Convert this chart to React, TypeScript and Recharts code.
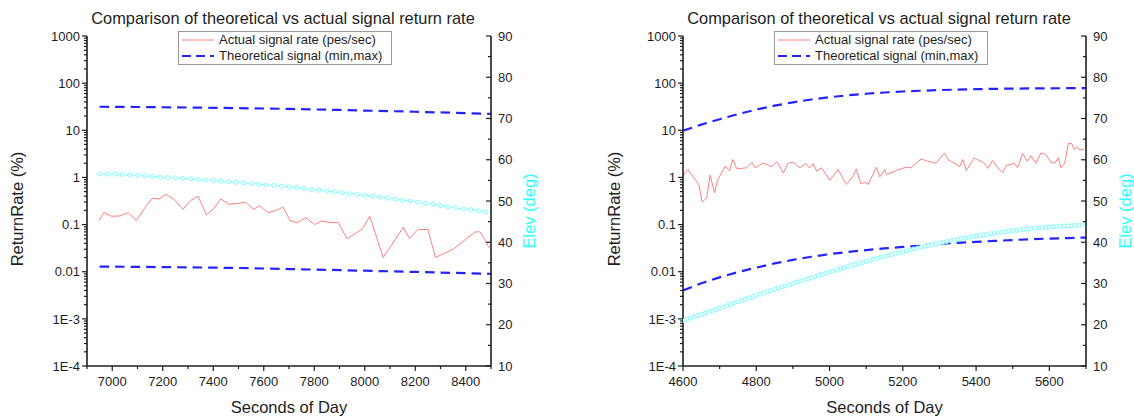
import { Legend, Line, LineChart, XAxis, YAxis } from 'recharts';

const FONT = '"Liberation Sans", Arial, Helvetica, sans-serif';
const INK = '#1e1e1e';
const RED = '#ff8080';
const BLUE = '#2424ff';
const CYAN = '#7dffff';
const CYAN_TEXT = '#2effff';

const TITLE = 'Comparison of theoretical vs actual signal return rate';
const legendLabels = ['Actual signal rate (pes/sec)', 'Theoretical signal (min,max)'];

// log axis (left) ticks
const rateMajor = [1e-4, 1e-3, 0.01, 0.1, 1, 10, 100, 1000];
const rateLabels = ['1E-4', '1E-3', '0.01', '0.1', '1', '10', '100', '1000'];
const rateMinor = rateMajor.slice(0, -1).flatMap((d) => [2, 3, 4, 5, 6, 7, 8, 9].map((m) => d * m));

// elevation axis (right) ticks
const elevMajor = [10, 20, 30, 40, 50, 60, 70, 80, 90];
const elevMinor = [15, 25, 35, 45, 55, 65, 75, 85];

const leftXMajor = [7000, 7200, 7400, 7600, 7800, 8000, 8200, 8400];
const leftXMinor = [6900, 7100, 7300, 7500, 7700, 7900, 8100, 8300, 8500];
const rightXMajor = [4600, 4800, 5000, 5200, 5400, 5600];
const rightXMinor = [4700, 4900, 5100, 5300, 5500, 5700];

// ---- left panel data ----
const leftActual: [number, number][] = [
  [6948, 0.12], [6967, 0.18], [6997, 0.15], [7030, 0.152], [7063, 0.178], [7096, 0.122],
  [7130, 0.23], [7158, 0.36], [7185, 0.35], [7214, 0.44], [7245, 0.34], [7280, 0.21],
  [7312, 0.33], [7340, 0.4], [7373, 0.16], [7402, 0.22], [7430, 0.35], [7463, 0.27],
  [7495, 0.28], [7527, 0.3], [7560, 0.21], [7583, 0.25], [7617, 0.18], [7650, 0.2],
  [7676, 0.235], [7705, 0.12], [7733, 0.11], [7765, 0.14], [7802, 0.1], [7830, 0.12],
  [7860, 0.11], [7895, 0.11], [7930, 0.05], [7990, 0.08], [8020, 0.15], [8073, 0.02],
  [8153, 0.088], [8177, 0.05], [8210, 0.079], [8250, 0.079], [8280, 0.02], [8350, 0.03],
  [8437, 0.07], [8457, 0.07], [8494, 0.032],
];

const leftTheoMax: [number, number][] = [
  [6950, 31.6], [7000, 31.5], [7100, 31.2], [7200, 30.8], [7300, 30.4], [7400, 30.0],
  [7500, 29.5], [7600, 29.0], [7700, 28.4], [7800, 27.7], [7900, 27.0], [8000, 26.2],
  [8100, 25.5], [8200, 24.7], [8300, 23.9], [8400, 23.1], [8500, 22.3],
];

const leftTheoMin: [number, number][] = [
  [6950, 0.0128], [7000, 0.0128], [7100, 0.0127], [7200, 0.0125], [7300, 0.0124],
  [7400, 0.0122], [7500, 0.012], [7600, 0.0117], [7700, 0.0114], [7800, 0.0111],
  [7900, 0.0108], [8000, 0.0105], [8100, 0.0102], [8200, 0.0099], [8300, 0.0096],
  [8400, 0.0093], [8500, 0.009],
];

const leftElev: [number, number][] = [
  [6950, 56.6], [6980, 56.5], [7010, 56.5], [7040, 56.4], [7070, 56.3], [7100, 56.2],
  [7130, 56.1], [7160, 56.0], [7190, 55.8], [7220, 55.7], [7250, 55.6], [7280, 55.5],
  [7310, 55.4], [7340, 55.2], [7370, 55.1], [7400, 55.0], [7430, 54.8], [7460, 54.7],
  [7490, 54.5], [7520, 54.4], [7550, 54.2], [7580, 54.1], [7610, 53.9], [7640, 53.8],
  [7670, 53.6], [7700, 53.4], [7730, 53.2], [7760, 53.0], [7790, 52.8], [7820, 52.6],
  [7850, 52.4], [7880, 52.2], [7910, 52.0], [7940, 51.8], [7970, 51.6], [8000, 51.4],
  [8030, 51.2], [8060, 50.9], [8090, 50.7], [8120, 50.4], [8150, 50.2], [8180, 50.0],
  [8210, 49.7], [8240, 49.4], [8270, 49.2], [8300, 48.9], [8330, 48.6], [8360, 48.4],
  [8390, 48.1], [8420, 47.9], [8450, 47.6], [8480, 47.4],
];

// ---- right panel data ----
const rightActual: [number, number][] = [
  [4600, 1.1], [4613, 1.47], [4643, 0.71], [4652, 0.3], [4665, 0.37], [4674, 1.12],
  [4686, 0.47], [4695, 0.9], [4715, 1.73], [4727, 1.4], [4736, 2.4], [4747, 1.52],
  [4774, 1.6], [4788, 2.1], [4797, 1.6], [4818, 2.0], [4829, 1.88], [4842, 1.68],
  [4856, 2.17], [4874, 1.25], [4887, 2.0], [4901, 2.1], [4919, 1.6], [4935, 2.0],
  [4945, 1.6], [4955, 1.95], [4965, 1.36], [4978, 1.6], [5001, 0.87], [5023, 1.47],
  [5046, 0.71], [5064, 1.06], [5073, 1.52], [5085, 0.74], [5096, 0.78], [5105, 0.71],
  [5128, 1.65], [5137, 1.03], [5151, 1.47], [5155, 1.15], [5182, 1.4], [5209, 1.65],
  [5223, 1.6], [5250, 2.47], [5268, 2.2], [5291, 2.0], [5314, 3.3], [5323, 2.4],
  [5355, 1.7], [5364, 2.4], [5373, 1.4], [5395, 2.6], [5423, 2.0], [5432, 1.55],
  [5445, 2.3], [5463, 1.47], [5473, 1.28], [5482, 1.8], [5495, 1.9], [5504, 2.0],
  [5513, 1.6], [5527, 3.2], [5540, 2.2], [5550, 2.9], [5563, 2.0], [5577, 3.3],
  [5590, 3.1], [5604, 2.1], [5615, 2.0], [5624, 2.6], [5632, 1.6], [5642, 2.0],
  [5652, 5.3], [5661, 5.2], [5668, 3.9], [5675, 4.5], [5683, 3.8], [5695, 4.0],
];

const rightTheoMax: [number, number][] = [
  [4600, 9.8], [4650, 13.2], [4700, 17.2], [4750, 22.0], [4800, 27.5], [4850, 33.3],
  [4900, 39.2], [4950, 45.0], [5000, 50.4], [5050, 55.3], [5100, 59.6], [5150, 63.3],
  [5200, 66.4], [5250, 69.0], [5300, 71.2], [5350, 73.0], [5400, 74.5], [5450, 75.7],
  [5500, 76.6], [5550, 77.3], [5600, 77.8], [5650, 78.1], [5700, 78.3],
];

const rightTheoMin: [number, number][] = [
  [4600, 0.004], [4650, 0.0057], [4700, 0.0076], [4750, 0.0098], [4800, 0.0122],
  [4850, 0.015], [4900, 0.0178], [4950, 0.0208], [5000, 0.0236], [5050, 0.0263],
  [5100, 0.0288], [5150, 0.0312], [5200, 0.0335], [5250, 0.0357], [5300, 0.039],
  [5350, 0.041], [5400, 0.043], [5450, 0.045], [5500, 0.047], [5550, 0.049],
  [5600, 0.0505], [5650, 0.0518], [5700, 0.053],
];

const rightElev: [number, number][] = [
  [4600, 21.0], [4610, 21.3], [4620, 21.6], [4630, 21.9], [4640, 22.2], [4650, 22.5],
  [4660, 22.8], [4670, 23.1], [4680, 23.4], [4690, 23.7], [4700, 24.0], [4710, 24.3],
  [4720, 24.6], [4730, 25.0], [4740, 25.3], [4750, 25.6], [4760, 25.9], [4770, 26.2],
  [4780, 26.5], [4790, 26.8], [4800, 27.1], [4810, 27.4], [4820, 27.7], [4830, 28.0],
  [4840, 28.3], [4850, 28.6], [4860, 28.9], [4870, 29.2], [4880, 29.4], [4890, 29.7],
  [4900, 30.0], [4910, 30.3], [4920, 30.6], [4930, 30.8], [4940, 31.1], [4950, 31.4],
  [4960, 31.7], [4970, 32.0], [4980, 32.2], [4990, 32.5], [5000, 32.8], [5010, 33.0],
  [5020, 33.3], [5030, 33.6], [5040, 33.8], [5050, 34.1], [5060, 34.4], [5070, 34.6],
  [5080, 34.9], [5090, 35.1], [5100, 35.4], [5110, 35.6], [5120, 35.9], [5130, 36.1],
  [5140, 36.4], [5150, 36.6], [5160, 36.8], [5170, 37.0], [5180, 37.3], [5190, 37.5],
  [5200, 37.7], [5210, 37.9], [5220, 38.1], [5230, 38.4], [5240, 38.6], [5250, 38.8],
  [5260, 39.0], [5270, 39.2], [5280, 39.4], [5290, 39.6], [5300, 39.8], [5310, 40.0],
  [5320, 40.2], [5330, 40.4], [5340, 40.5], [5350, 40.7], [5360, 40.9], [5370, 41.0],
  [5380, 41.2], [5390, 41.3], [5400, 41.5], [5410, 41.6], [5420, 41.8], [5430, 41.9],
  [5440, 42.1], [5450, 42.2], [5460, 42.3], [5470, 42.4], [5480, 42.6], [5490, 42.7],
  [5500, 42.8], [5510, 42.9], [5520, 43.0], [5530, 43.1], [5540, 43.2], [5550, 43.3],
  [5560, 43.4], [5570, 43.5], [5580, 43.5], [5590, 43.6], [5600, 43.7], [5610, 43.8],
  [5620, 43.8], [5630, 43.9], [5640, 43.9], [5650, 44.0], [5660, 44.0], [5670, 44.1],
  [5680, 44.1], [5690, 44.2],
];

const toPoints = (arr: [number, number][]) => arr.map(([x, y]) => ({ x, y }));

const axisLineStyle = { stroke: INK, strokeWidth: 1.6 };

function RateTick(props: any) {
  const { x, y, payload } = props;
  const i = rateMajor.indexOf(payload.value);
  const major = i >= 0;
  return (
    <g>
      <line x1={x} x2={x - (major ? 5 : 3)} y1={y} y2={y} stroke={INK} strokeWidth={1.2} />
      {major && (
        <text x={x - 7} y={y} dy="0.36em" textAnchor="end" fontSize={13} fontFamily={FONT} fill={INK}>
          {rateLabels[i]}
        </text>
      )}
    </g>
  );
}

function ElevTick(props: any) {
  const { x, y, payload } = props;
  const major = elevMajor.includes(payload.value);
  return (
    <g>
      <line x1={x} x2={x - (major ? 5 : 3)} y1={y} y2={y} stroke={INK} strokeWidth={1.2} />
      {major && (
        <text x={x + 7} y={y} dy="0.36em" textAnchor="start" fontSize={13} fontFamily={FONT} fill={INK}>
          {payload.value}
        </text>
      )}
    </g>
  );
}

function makeXTick(majors: number[]) {
  return (props: any) => {
    const { x, y, payload } = props;
    const major = majors.includes(payload.value);
    return (
      <g>
        <line x1={x} x2={x} y1={y} y2={y + (major ? 5 : 3)} stroke={INK} strokeWidth={1.2} />
        {major && (
          <text x={x} y={y + 20} textAnchor="middle" fontSize={13} fontFamily={FONT} fill={INK}>
            {payload.value}
          </text>
        )}
      </g>
    );
  };
}

function SignalLegend() {
  const samples = [
    { color: RED, width: 1, dash: undefined as string | undefined },
    { color: BLUE, width: 2.2, dash: '9 5' },
  ];
  return (
    <div
      style={{
        boxSizing: 'border-box',
        width: 214,
        height: 34,
        border: '1px solid #9a9a9a',
        background: '#fff',
        fontFamily: FONT,
        fontSize: 13,
        color: INK,
        paddingLeft: 3,
      }}
    >
      {legendLabels.map((label, i) => (
        <div key={label} style={{ display: 'flex', alignItems: 'center', height: 16 }}>
          <svg width={32} height={16} style={{ flex: 'none' }}>
            <line x1={0} x2={32} y1={8} y2={8} stroke={samples[i].color} strokeWidth={samples[i].width} strokeDasharray={samples[i].dash} />
          </svg>
          <span style={{ marginLeft: 5, whiteSpace: 'nowrap', lineHeight: '16px' }}>{label}</span>
        </div>
      ))}
    </div>
  );
}

interface PanelProps {
  left: number;
  xDomain: [number, number];
  xMajor: number[];
  xMinor: number[];
  actual: [number, number][];
  theoMax: [number, number][];
  theoMin: [number, number][];
  elev: [number, number][];
  leftWidth: number;
  rightWidth: number;
  titleCenter: number;
  legendLeft: number;
  rateTitleOffset: number;
  elevTitleOffset: number;
}

const PANEL_W = 567;
const PANEL_H = 419;

function Panel(p: PanelProps) {
  return (
    <div style={{ position: 'absolute', left: p.left, top: 0, width: PANEL_W, height: PANEL_H }}>
      <div
        style={{
          position: 'absolute',
          left: p.titleCenter - 250,
          top: 8,
          width: 500,
          textAlign: 'center',
          fontFamily: FONT,
          fontSize: 16.4,
          lineHeight: '20px',
          color: INK,
          zIndex: 2,
        }}
      >
        {TITLE}
      </div>
      <LineChart width={PANEL_W} height={PANEL_H} margin={{ top: 36, right: 0, bottom: 0, left: 0 }}>
        <XAxis
          type="number"
          dataKey="x"
          domain={p.xDomain}
          allowDataOverflow
          ticks={[...p.xMajor, ...p.xMinor]}
          interval={0}
          height={53}
          tickSize={0}
          tickMargin={0}
          tickLine={false}
          axisLine={axisLineStyle}
          tick={makeXTick(p.xMajor)}
          label={{ value: 'Seconds of Day', position: 'insideBottom', offset: 6, fontSize: 16.5, fontFamily: FONT, fill: INK }}
        />
        <YAxis
          yAxisId="rate"
          type="number"
          scale="log"
          domain={[1e-4, 1000]}
          allowDataOverflow
          ticks={[...rateMajor, ...rateMinor]}
          interval={0}
          width={p.leftWidth}
          tickSize={0}
          tickMargin={0}
          tickLine={false}
          axisLine={axisLineStyle}
          tick={RateTick}
          label={{
            value: 'ReturnRate (%)',
            angle: -90,
            position: 'insideLeft',
            offset: p.rateTitleOffset,
            dy: 8,
            fontSize: 16.5,
            fontFamily: FONT,
            fill: INK,
            style: { textAnchor: 'middle' },
          }}
        />
        <YAxis
          yAxisId="elev"
          orientation="right"
          type="number"
          domain={[10, 90]}
          allowDataOverflow
          ticks={[...elevMajor, ...elevMinor]}
          interval={0}
          width={p.rightWidth}
          tickSize={0}
          tickMargin={0}
          tickLine={false}
          axisLine={axisLineStyle}
          tick={ElevTick}
          label={{
            value: 'Elev (deg)',
            angle: -90,
            position: 'insideRight',
            offset: p.elevTitleOffset,
            dy: 10,
            fontSize: 16.5,
            fontFamily: FONT,
            fill: CYAN_TEXT,
            style: { textAnchor: 'middle', fill: CYAN_TEXT },
          }}
        />
        <Legend
          verticalAlign="middle"
          align="center"
          content={() => <SignalLegend />}
          wrapperStyle={{ left: p.legendLeft, top: 31, width: 214, height: 34 }}
        />
        <Line
          yAxisId="rate"
          data={toPoints(p.theoMax)}
          dataKey="y"
          type="linear"
          stroke={BLUE}
          strokeWidth={2.2}
          strokeDasharray="9.5 6"
          dot={false}
          isAnimationActive={false}
        />
        <Line
          yAxisId="rate"
          data={toPoints(p.theoMin)}
          dataKey="y"
          type="linear"
          stroke={BLUE}
          strokeWidth={2.2}
          strokeDasharray="9.5 6"
          dot={false}
          isAnimationActive={false}
        />
        <Line
          yAxisId="rate"
          data={toPoints(p.actual)}
          dataKey="y"
          type="linear"
          stroke={RED}
          strokeWidth={1}
          dot={false}
          isAnimationActive={false}
        />
        <Line
          yAxisId="elev"
          data={toPoints(p.elev)}
          dataKey="y"
          type="linear"
          stroke={CYAN}
          strokeWidth={1}
          dot={{ r: 2, stroke: CYAN, strokeWidth: 1, fill: '#fff' }}
          isAnimationActive={false}
        />
      </LineChart>
    </div>
  );
}

export default function App() {
  return (
    <div style={{ position: 'absolute', left: 0, top: 0, width: 1134, height: 419, background: '#fff' }}>
      <Panel
        left={0}
        xDomain={[6900, 8500]}
        xMajor={leftXMajor}
        xMinor={leftXMinor}
        actual={leftActual}
        theoMax={leftTheoMax}
        theoMin={leftTheoMin}
        elev={leftElev}
        leftWidth={87}
        rightWidth={76}
        titleCenter={283}
        legendLeft={178}
        rateTitleOffset={17}
        elevTitleOffset={38}
      />
      <Panel
        left={567}
        xDomain={[4600, 5700]}
        xMajor={rightXMajor}
        xMinor={rightXMinor}
        actual={rightActual}
        theoMax={rightTheoMax}
        theoMin={rightTheoMin}
        elev={rightElev}
        leftWidth={116}
        rightWidth={48}
        titleCenter={312}
        legendLeft={207}
        rateTitleOffset={47}
        elevTitleOffset={9}
      />
    </div>
  );
}
